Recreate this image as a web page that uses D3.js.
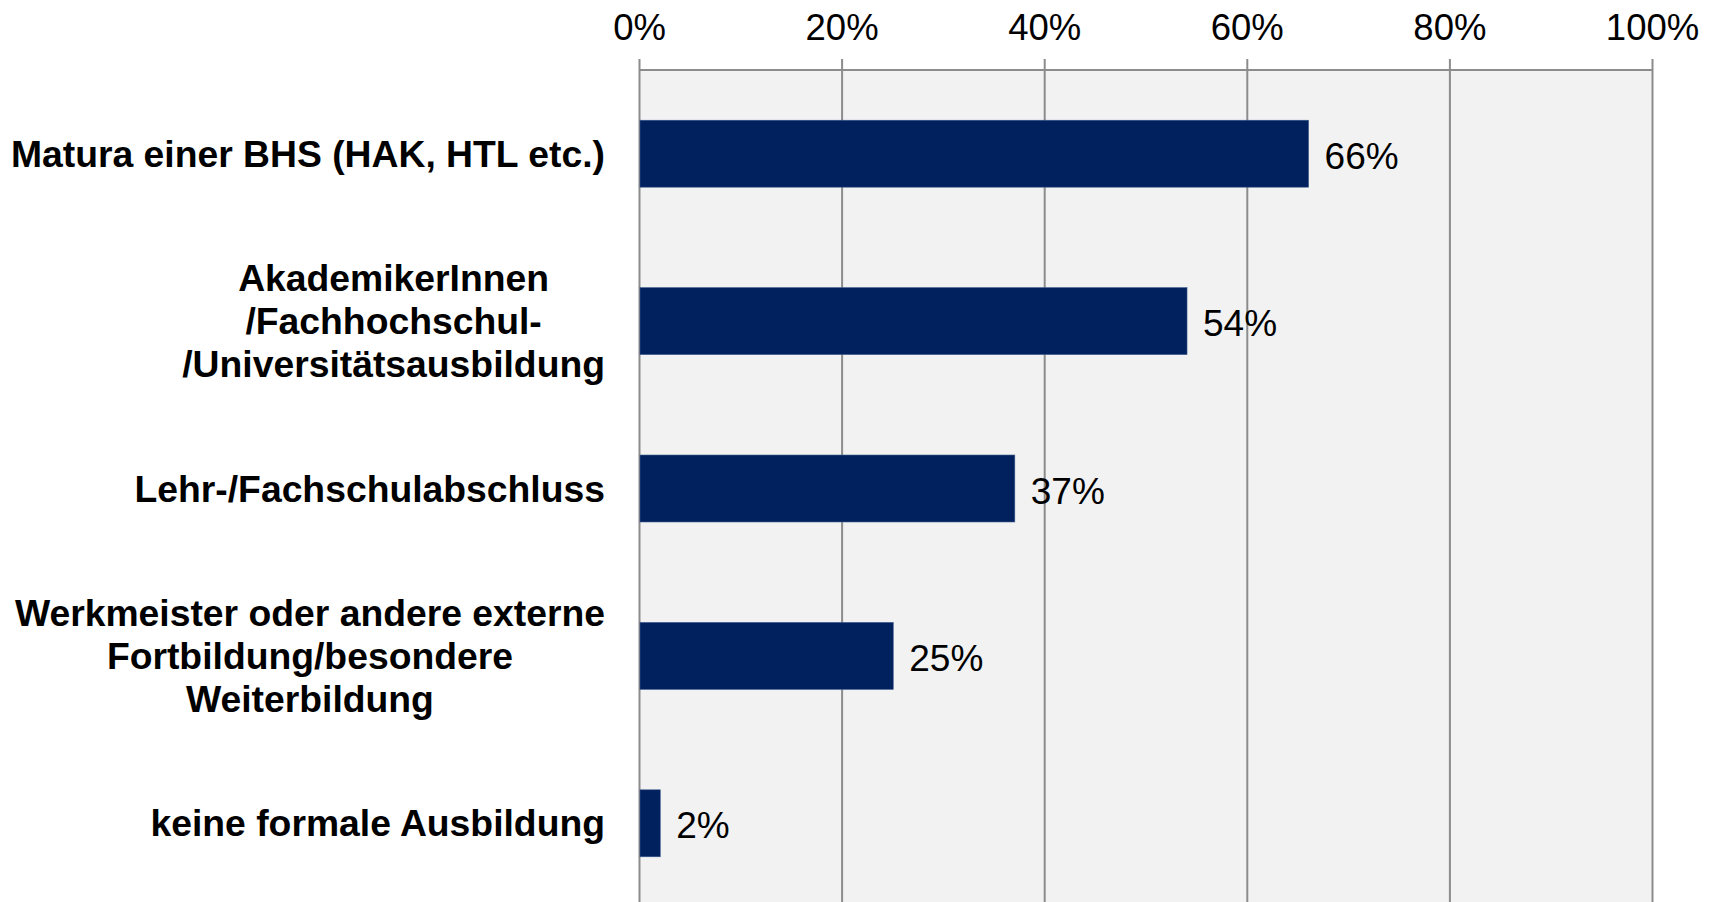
<!DOCTYPE html>
<html>
<head>
<meta charset="utf-8">
<script src="https://cdn.jsdelivr.net/npm/d3@7"></script>
<style>
  html, body { margin: 0; padding: 0; background: #ffffff; }
  svg { display: block; }
  text { font-family: "Liberation Sans", Arial, sans-serif; }
</style>
</head>
<body>
<svg id="chart" width="1716" height="902"></svg>
<script>
// Highest completed education (share of respondents)
const categories = [
  ["Matura einer BHS (HAK, HTL etc.)"],
  ["AkademikerInnen", "/Fachhochschul-", "/Universitätsausbildung"],
  ["Lehr-/Fachschulabschluss"],
  ["Werkmeister oder andere externe", "Fortbildung/besondere", "Weiterbildung"],
  ["keine formale Ausbildung"]
];
const values = [66, 54, 37, 25, 2];
const tickValues = [0, 20, 40, 60, 80, 100];
const tickLabels = ["0%", "20%", "40%", "60%", "80%", "100%"];

const svg = d3.select("#chart");
const plotLeft = 639, plotRight = 1652, plotTop = 70, plotBottom = 907;

const x = d3.scaleLinear().domain([0, 100]).range([plotLeft, plotRight]);
const y = d3.scaleBand()
  .domain(d3.range(values.length))
  .range([plotTop, plotBottom])
  .paddingInner(0.6)
  .paddingOuter(0.3);

// plot background
svg.append("rect")
  .attr("x", plotLeft).attr("y", plotTop)
  .attr("width", plotRight - plotLeft).attr("height", plotBottom - plotTop)
  .attr("fill", "#f2f2f2");

// top axis with gridlines running through the plot
const axis = d3.axisTop(x)
  .tickValues(tickValues)
  .tickFormat((d, i) => tickLabels[i])
  .tickSize(-(plotBottom - plotTop))
  .tickPadding(0);

const gAxis = svg.append("g")
  .attr("transform", `translate(0,${plotTop})`)
  .call(axis);
gAxis.select(".domain").remove();
gAxis.selectAll(".tick line")
  .attr("y1", -11)
  .attr("stroke", "#8c8c8c")
  .attr("stroke-width", 2);
gAxis.selectAll(".tick text")
  .attr("y", -30)
  .attr("fill", "#000")
  .style("font-size", "36.5px");

// top border of the plot
svg.append("line")
  .attr("x1", plotLeft).attr("x2", plotRight)
  .attr("y1", plotTop).attr("y2", plotTop)
  .attr("stroke", "#8c8c8c").attr("stroke-width", 2);

// bars
svg.append("g").selectAll("rect")
  .data(values)
  .join("rect")
  .attr("x", x(0) + 1)
  .attr("y", (d, i) => y(i))
  .attr("width", d => x(d) - x(0))
  .attr("height", y.bandwidth())
  .attr("fill", "#00205e")
  .attr("stroke", "#3c5a8c")
  .attr("stroke-width", 0.6);

// value labels
svg.append("g").selectAll("text")
  .data(values)
  .join("text")
  .attr("x", d => x(d) + 17)
  .attr("y", (d, i) => y(i) + y.bandwidth() / 2 + 15)
  .attr("fill", "#000")
  .style("font-size", "37px")
  .text(d => d + "%");

// category labels: centred multi-line blocks, right edge aligned at 605
const labelRight = 605, lineH = 42.7;
const gLab = svg.append("g");
categories.forEach((lines, i) => {
  const cy = y(i) + y.bandwidth() / 2;
  const t = gLab.append("text")
    .attr("text-anchor", "middle")
    .style("font-size", "37.3px")
    .style("font-weight", "bold")
    .attr("fill", "#000");
  lines.forEach((ln, j) => {
    t.append("tspan")
      .attr("x", 0)
      .attr("y", cy + (j - (lines.length - 1) / 2) * lineH + 13)
      .text(ln);
  });
  let w = 0;
  t.selectAll("tspan").each(function() { w = Math.max(w, this.getComputedTextLength()); });
  t.selectAll("tspan").attr("x", labelRight - w / 2);
});
</script>
</body>
</html>
